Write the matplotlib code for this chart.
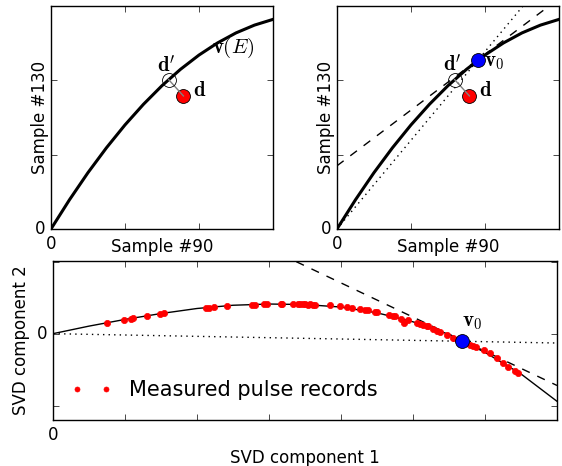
"""
SVD空間でのパルス記録と v(E) 曲線の図
"""
import numpy as np
import matplotlib
matplotlib.use("Agg")
import matplotlib.pyplot as plt

plt.style.use("classic")
plt.rcParams["font.family"] = ["DejaVu Sans"]
plt.rcParams["mathtext.fontset"] = "cm"
plt.rcParams["figure.facecolor"] = "white"
plt.rcParams["savefig.facecolor"] = "white"

# --- 上段: サンプル #90 vs #130 上の v(E) 曲線 ---
curve_x = [0.0, 0.25, 0.5, 0.75, 1.0, 1.25, 1.5, 1.75, 2.0, 2.25, 2.5, 2.75, 3.0]
curve_y = [0.0, 0.393, 0.758, 1.093, 1.40, 1.678, 1.928, 2.148, 2.34, 2.503, 2.638, 2.743, 2.82]

d_pt = (1.79, 1.79)
dprime_pt = (1.59, 2.01)
v0_pt = (1.91, 2.28)

tangent_x = [0.0, 3.0]
tangent_y = [0.85, 3.10]
chord_x = [0.0, 3.0]
chord_y = [0.0, 3.58]

# --- 下段: SVD 成分 1 vs 2 ---
svd_curve_x = [0.0, 0.5, 1.0, 1.5, 2.0, 2.5, 3.0, 3.5, 4.0, 4.5, 5.0, 5.5, 6.0, 6.5, 7.0]
svd_curve_y = [0.0, 0.105, 0.198, 0.28, 0.35, 0.395, 0.412, 0.405, 0.37, 0.29, 0.165,
               -0.01, -0.26, -0.56, -0.94]

pulse_x = [0.754, 0.99, 1.08, 1.11, 1.30, 1.48, 1.54, 2.13, 2.17, 2.24, 2.42, 2.76, 2.81,
           2.93, 2.97, 3.16, 3.18, 3.34, 3.40, 3.43, 3.47, 3.50, 3.54, 3.57, 3.61, 3.64,
           3.85, 3.99, 4.08, 4.15, 4.26, 4.34, 4.38, 4.47, 4.50, 4.66, 4.72, 4.75, 4.84,
           4.87, 4.93, 5.05, 5.10, 5.14, 5.19, 5.21, 5.28, 5.33, 5.38, 5.47, 5.56, 5.62,
           5.79, 5.84, 5.88, 5.98, 6.07, 6.16, 6.25, 6.32, 6.42, 6.46]
pulse_y = [0.149, 0.194, 0.208, 0.213, 0.25, 0.278, 0.292, 0.357, 0.357, 0.371, 0.389,
           0.403, 0.399, 0.413, 0.417, 0.417, 0.417, 0.417, 0.41, 0.407, 0.41, 0.407,
           0.405, 0.407, 0.402, 0.399, 0.399, 0.379, 0.371, 0.357, 0.343, 0.33, 0.324,
           0.301, 0.30, 0.26, 0.245, 0.24, 0.204, 0.149, 0.185, 0.149, 0.139, 0.125,
           0.10, 0.10, 0.06, 0.04, 0.025, -0.017, -0.064, -0.09, -0.157, -0.175, -0.19,
           -0.225, -0.271, -0.34, -0.41, -0.46, -0.52, -0.55]

svd_v0 = (5.68, -0.107)
svd_dot_x = [0.0, 7.0]
svd_dot_y = [0.0, -0.13]
svd_dash_x = [3.38, 7.0]
svd_dash_y = [1.0, -0.72]


def setup_top(ax):
    ax.set_xlim(0, 3)
    ax.set_ylim(0, 3)
    ax.set_xticks([0, 1, 2, 3])
    ax.set_yticks([0, 1, 2, 3])
    ax.set_xticklabels(["0", "", "", ""])
    ax.set_yticklabels(["0", "", "", ""])
    ax.set_xlabel("Sample #90")
    ax.set_ylabel("Sample #130")
    ax.xaxis.set_label_coords(0.5, -0.04)
    ax.yaxis.set_label_coords(-0.01, 0.5)


def draw_projection(ax):
    ax.plot(curve_x, curve_y, "k-", lw=2.2)
    ax.plot(*d_pt, "o", color="red", mec="k", mew=0.6, ms=10)
    ax.plot([d_pt[0], dprime_pt[0]], [d_pt[1], dprime_pt[1]], "-", color="gray", lw=1)
    ax.plot(*dprime_pt, "o", mfc="none", mec="k", mew=0.6, ms=10)
    ax.text(1.915, 1.87, r"$\mathbf{d}$", fontsize=15, ha="left", va="center")


def plot_top_left(fig):
    ax = fig.add_axes([0.0907, 0.5086, 0.395, 0.4785])
    draw_projection(ax)
    ax.text(1.56, 2.2, r"$\mathbf{d}'$", fontsize=15, ha="center", va="center")
    ax.text(2.46, 2.43, r"$\mathbf{v}(E)$", fontsize=15, ha="center", va="center")
    setup_top(ax)


def plot_top_right(fig):
    ax = fig.add_axes([0.5996, 0.5086, 0.395, 0.4785])
    ax.plot(tangent_x, tangent_y, "k--", lw=1)
    ax.plot(chord_x, chord_y, "k:", lw=1)
    draw_projection(ax)
    ax.plot(*v0_pt, "o", color="blue", mec="k", mew=0.6, ms=10)
    ax.text(1.56, 2.215, r"$\mathbf{d}'$", fontsize=15, ha="center", va="center")
    ax.text(1.99, 2.24, r"$\mathbf{v}_0$", fontsize=15, ha="left", va="center")
    setup_top(ax)


def plot_bottom(fig):
    ax = fig.add_axes([0.0943, 0.0987, 0.8968, 0.3412])
    ax.plot(svd_curve_x, svd_curve_y, "k-", lw=1)
    ax.plot(svd_dot_x, svd_dot_y, "k:", lw=1)
    ax.plot(svd_dash_x, svd_dash_y, "k--", lw=1)
    ax.plot(pulse_x, pulse_y, "o", color="red", mec="red", mew=0.5, ms=4.5,
            label="Measured pulse records")
    ax.plot(*svd_v0, "o", color="blue", mec="k", mew=0.6, ms=10)
    ax.text(5.83, 0.16, r"$\mathbf{v}_0$", fontsize=15, ha="center", va="center")

    ax.set_xlim(0, 7)
    ax.set_ylim(-1.2, 1.01)
    ax.set_xticks(range(8))
    ax.set_xticklabels(["0"] + [""] * 7)
    ax.set_yticks([-1, 0, 1])
    ax.set_yticklabels(["", "0", ""])
    ax.set_xlabel("SVD component 1")
    ax.set_ylabel("SVD component 2")
    ax.xaxis.set_label_coords(0.5, -0.18)
    ax.yaxis.set_label_coords(-0.046, 0.5)
    ax.legend(loc="center left", bbox_to_anchor=(0.035, 0.19), frameon=False,
              numpoints=2, fontsize=15, markerscale=0.8, borderpad=0,
              borderaxespad=0, handlelength=2.0, handletextpad=0.8)


def main():
    fig = plt.figure(figsize=(5.62, 4.66), dpi=100)
    plot_top_left(fig)
    plot_top_right(fig)
    plot_bottom(fig)
    fig.savefig("out.png", dpi=100)
    plt.close(fig)
    print("[OK] out.png")


if __name__ == "__main__":
    main()
